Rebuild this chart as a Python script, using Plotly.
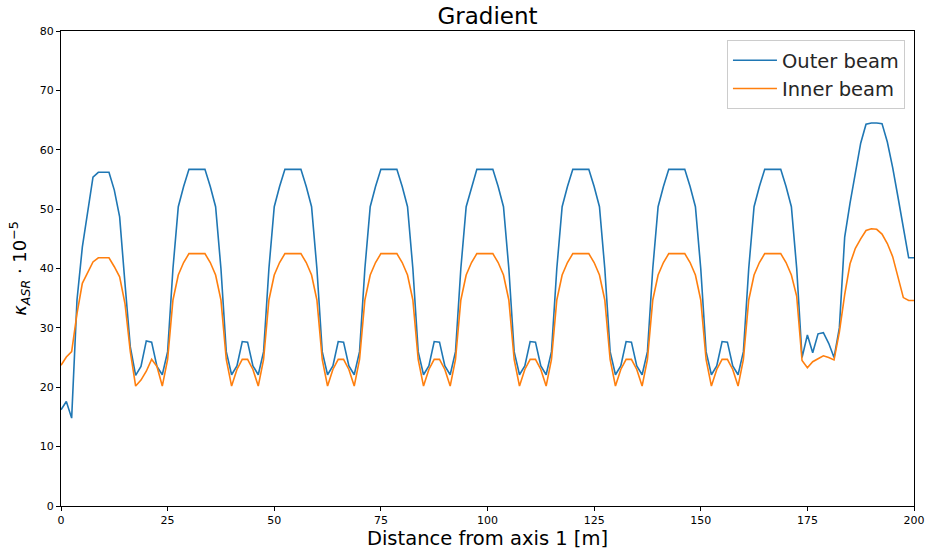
import plotly.graph_objects as go

distance = [
    0.0, 1.25, 2.5, 3.75, 5.0, 6.25, 7.5, 8.75, 10.0, 11.25, 12.5, 13.75, 15.0, 16.25, 17.5, 18.75, 20.0, 21.25, 22.5,
    23.75, 25.0, 26.25, 27.5, 28.75, 30.0, 31.25, 32.5, 33.75, 35.0, 36.25, 37.5, 38.75, 40.0, 41.25, 42.5, 43.75, 45.0,
    46.25, 47.5, 48.75, 50.0, 51.25, 52.5, 53.75, 55.0, 56.25, 57.5, 58.75, 60.0, 61.25, 62.5, 63.75, 65.0, 66.25, 67.5,
    68.75, 70.0, 71.25, 72.5, 73.75, 75.0, 76.25, 77.5, 78.75, 80.0, 81.25, 82.5, 83.75, 85.0, 86.25, 87.5, 88.75, 90.0,
    91.25, 92.5, 93.75, 95.0, 96.25, 97.5, 98.75, 100.0, 101.25, 102.5, 103.75, 105.0, 106.25, 107.5, 108.75, 110.0, 111.25, 112.5,
    113.75, 115.0, 116.25, 117.5, 118.75, 120.0, 121.25, 122.5, 123.75, 125.0, 126.25, 127.5, 128.75, 130.0, 131.25, 132.5, 133.75, 135.0,
    136.25, 137.5, 138.75, 140.0, 141.25, 142.5, 143.75, 145.0, 146.25, 147.5, 148.75, 150.0, 151.25, 152.5, 153.75, 155.0, 156.25, 157.5,
    158.75, 160.0, 161.25, 162.5, 163.75, 165.0, 166.25, 167.5, 168.75, 170.0, 171.25, 172.5, 173.75,
    175.0, 176.25, 177.5, 178.75, 180.0, 181.25, 182.5, 183.75, 185.0, 186.25, 187.5, 188.75, 190.0, 191.25, 192.5, 193.75,
    195.0, 196.25, 197.5, 198.75, 200.0,
]

outer_beam = [
    16.2, 17.6, 14.8, 34.7, 43.6, 49.3, 55.4, 56.2, 56.2, 56.2, 53.2, 48.7, 37.5, 26.8, 22.0, 23.5, 27.8, 27.6, 23.5,
    22.1, 26.0, 40.0, 50.4, 53.8, 56.7, 56.7, 56.7, 56.7, 53.8, 50.4, 40.0, 26.0, 22.1, 23.6, 27.7, 27.6, 23.6,
    22.1, 26.0, 40.0, 50.4, 53.8, 56.7, 56.7, 56.7, 56.7, 53.8, 50.4, 40.0, 26.0, 22.1, 23.6, 27.7, 27.6, 23.6,
    22.1, 26.0, 40.0, 50.4, 53.8, 56.7, 56.7, 56.7, 56.7, 53.8, 50.4, 40.0, 26.0, 22.1, 23.6, 27.7, 27.6, 23.6,
    22.1, 26.0, 40.0, 50.4, 53.8, 56.7, 56.7, 56.7, 56.7, 53.8, 50.4, 40.0, 26.0, 22.1, 23.6, 27.7, 27.6, 23.6,
    22.1, 26.0, 40.0, 50.4, 53.8, 56.7, 56.7, 56.7, 56.7, 53.8, 50.4, 40.0, 26.0, 22.1, 23.6, 27.7, 27.6, 23.6,
    22.1, 26.0, 40.0, 50.4, 53.8, 56.7, 56.7, 56.7, 56.7, 53.8, 50.4, 40.0, 26.0, 22.1, 23.6, 27.7, 27.6, 23.6,
    22.1, 26.0, 40.0, 50.4, 53.8, 56.7, 56.7, 56.7, 56.7, 53.8, 50.4, 40.0, 25.0,
    28.8, 25.8, 29.0, 29.2, 27.4, 25.0, 30.0, 45.3, 51.0, 56.0, 61.1, 64.3, 64.5, 64.5, 64.4, 61.3,
    57.0, 52.0, 47.0, 41.8, 41.8,
]

inner_beam = [
    23.7, 25.1, 26.0, 32.4, 37.5, 39.4, 41.1, 41.8, 41.8, 41.8, 40.3, 38.6, 34.1, 26.0, 20.2, 21.2, 22.7, 24.7, 23.5,
    20.2, 24.7, 34.7, 38.9, 41.0, 42.5, 42.5, 42.5, 42.5, 41.0, 38.9, 34.7, 24.7, 20.2, 23.0, 24.7, 24.7, 23.0,
    20.2, 24.7, 34.7, 38.9, 41.0, 42.5, 42.5, 42.5, 42.5, 41.0, 38.9, 34.7, 24.7, 20.2, 23.0, 24.7, 24.7, 23.0,
    20.2, 24.7, 34.7, 38.9, 41.0, 42.5, 42.5, 42.5, 42.5, 41.0, 38.9, 34.7, 24.7, 20.2, 23.0, 24.7, 24.7, 23.0,
    20.2, 24.7, 34.7, 38.9, 41.0, 42.5, 42.5, 42.5, 42.5, 41.0, 38.9, 34.7, 24.7, 20.2, 23.0, 24.7, 24.7, 23.0,
    20.2, 24.7, 34.7, 38.9, 41.0, 42.5, 42.5, 42.5, 42.5, 41.0, 38.9, 34.7, 24.7, 20.2, 23.0, 24.7, 24.7, 23.0,
    20.2, 24.7, 34.7, 38.9, 41.0, 42.5, 42.5, 42.5, 42.5, 41.0, 38.9, 34.7, 24.7, 20.2, 23.0, 24.7, 24.7, 23.0,
    20.2, 24.7, 34.7, 38.9, 41.0, 42.5, 42.5, 42.5, 42.5, 41.0, 38.9, 35.3, 24.5,
    23.3, 24.3, 24.8, 25.3, 25.0, 24.6, 29.3, 35.6, 40.8, 43.4, 45.0, 46.4, 46.7, 46.6, 45.8, 44.2,
    42.0, 38.6, 35.1, 34.6, 34.6,
]

x_ticks = [0, 25, 50, 75, 100, 125, 150, 175, 200]
y_ticks = [0, 10, 20, 30, 40, 50, 60, 70, 80]

FONT = "DejaVu Sans"

fig = go.Figure()
fig.add_trace(go.Scatter(x=distance, y=outer_beam, mode="lines", name="Outer beam",
                         line=dict(color="#1f77b4", width=1.6)))
fig.add_trace(go.Scatter(x=distance, y=inner_beam, mode="lines", name="Inner beam",
                         line=dict(color="#ff7f0e", width=1.6)))

axis_common = dict(
    showline=True, linecolor="black", linewidth=1, mirror=True,
    ticks="outside", ticklen=4, tickwidth=1, tickcolor="black",
    showgrid=False, zeroline=False, automargin=False,
    tickfont=dict(family=FONT, size=11, color="black"),
)

fig.update_layout(
    width=925, height=554,
    paper_bgcolor="white", plot_bgcolor="white",
    margin=dict(l=61, r=11, t=31, b=48, autoexpand=False),
    font=dict(family=FONT, color="black"),
    title=dict(text="Gradient", x=0.527, xanchor="center", xref="container",
               y=0.972, yanchor="middle", yref="container",
               font=dict(family=FONT, size=23, color="black")),
    xaxis=dict(range=[0, 200], tickvals=x_ticks, ticklabeloverflow="allow",
               title=dict(text="Distance from axis 1 [m]", font=dict(family=FONT, size=19.5), standoff=4),
               **axis_common),
    yaxis=dict(range=[0, 80], tickvals=y_ticks,
               title=dict(text="<i>κ</i><sub><i>ASR</i></sub> · 10<sup>−5</sup>",
                          font=dict(family=FONT, size=18), standoff=8),
               **axis_common),
    legend=dict(x=0.9894, y=0.981, xanchor="right", yanchor="top",
                bgcolor="rgba(255,255,255,0.8)", bordercolor="#cccccc", borderwidth=1,
                font=dict(family=FONT, size=19.5, color="#262626"),
                itemwidth=44, tracegroupgap=2),
    showlegend=True,
)

# remove the default 8px page margin so the figure fills the 925x554 window exactly
fig.write_html("out.html",
               config={"displayModeBar": False},
               post_script="document.body.style.margin='0';document.body.style.overflow='hidden';")
